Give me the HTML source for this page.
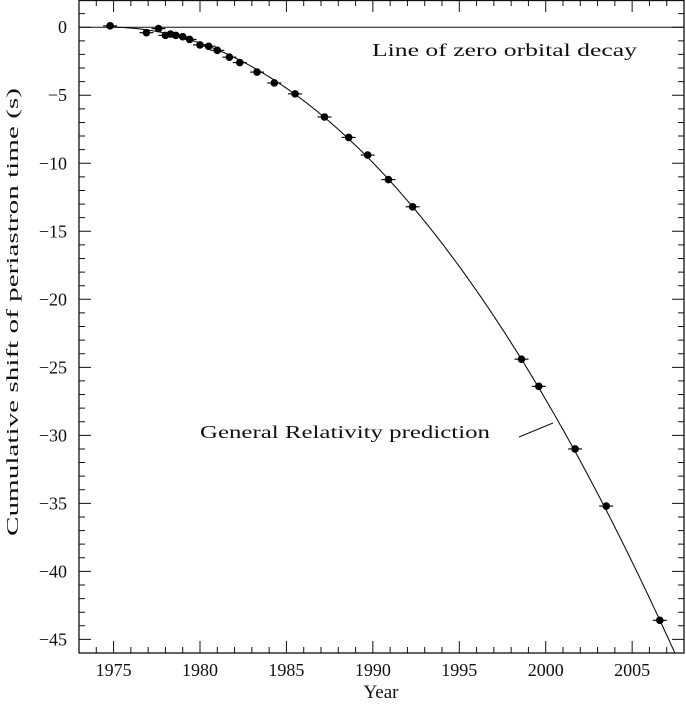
<!DOCTYPE html>
<html><head><meta charset="utf-8"><style>
body{margin:0;background:#fff}
svg text{font-family:"Liberation Serif",serif;fill:#111}
</style></head><body>
<svg id="chart" width="686" height="700" xmlns="http://www.w3.org/2000/svg"></svg>
<script>
const years = [1974.8,1976.9,1977.6,1978.0,1978.3,1978.6,1979.0,1979.4,1980.0,1980.5,1981.0,1981.7,1982.3,1983.3,1984.3,1985.5,1987.2,1988.6,1989.7,1990.9,1992.3,1998.6,1999.6,2001.7,2003.5,2006.6];
const shifts = [0.1,-0.4,-0.1,-0.6,-0.5,-0.6,-0.7,-0.9,-1.3,-1.4,-1.7,-2.2,-2.6,-3.3,-4.1,-4.9,-6.6,-8.1,-9.4,-11.2,-13.2,-24.4,-26.4,-31.0,-35.2,-43.6];
const xTicks = [1975,1980,1985,1990,1995,2000,2005];
const yTicks = [0,-5,-10,-15,-20,-25,-30,-35,-40,-45];
const grT0 = 1974.8, grK = 0.0431;

const svg=document.getElementById('chart');
const NS='http://www.w3.org/2000/svg';
const L=79,R=684,T=0,B=653,X0=1973,X1=2008,Y0=2,Y1=-46;
const sx=v=>L+(v-X0)/(X1-X0)*(R-L);
const sy=v=>T+(Y0-v)/(Y0-Y1)*(B-T);
function mk(tag,attrs,parent){const e=document.createElementNS(NS,tag);for(const k in attrs)e.setAttribute(k,attrs[k]);(parent||svg).appendChild(e);return e;}

const axes=mk('g',{});


const frame=mk('rect',{x:L,y:T+0.5,width:R-L,height:B-T-0.5,fill:'none',stroke:'#111','stroke-width':1.3},axes);


let d='';
for(let y=1973;y<=2008;y++){const x=sx(y),len=(y%5===0)?12:6;d+=`M${x},${B}v${-len}M${x},${T}v${len}`;}
for(let v=2;v>=-46;v--){const y=sy(v),len=(v%5===0)?12:6;d+=`M${L},${y}h${len}M${R},${y}h${-len}`;}
const ticks=mk('path',{d:d,stroke:'#111','stroke-width':1,fill:'none'},axes);


xTicks.forEach(t=>{const e=mk('text',{x:sx(t),y:676,'text-anchor':'middle','font-size':18},axes);e.textContent=t;

});
yTicks.forEach(t=>{const e=mk('text',{x:L-12,y:sy(t)+6,'text-anchor':'end','font-size':18},axes);e.textContent=t===0?'0':'\u2212'+Math.abs(t);

});
const xt=mk('text',{x:381,y:698,'text-anchor':'middle','font-size':19});xt.textContent='Year';


const yt=mk('text',{x:0,y:0,'text-anchor':'middle','font-size':17,transform:'translate(18,312) rotate(-90)',textLength:448,lengthAdjust:'spacingAndGlyphs'});yt.textContent='Cumulative shift of periastron time (s)';



const zl=mk('line',{x1:L,x2:R,y1:sy(0),y2:sy(0),stroke:'#111','stroke-width':1});


const zt=mk('text',{x:372,y:56,'font-size':18,textLength:265,lengthAdjust:'spacingAndGlyphs'});zt.textContent='Line of zero orbital decay';



let pd='';
for(let t=grT0;t<=X1;t+=0.05){const v=-grK*(t-grT0)*(t-grT0);if(v<Y1)break;pd+=(pd?'L':'M')+sx(t).toFixed(1)+','+sy(v).toFixed(1);}
const tEnd=grT0+Math.sqrt(-Y1/grK);pd+='L'+sx(tEnd).toFixed(1)+','+B;
const gr=mk('path',{d:pd,fill:'none',stroke:'#111','stroke-width':1.1});


const gt=mk('text',{x:200,y:438,'font-size':18,textLength:290,lengthAdjust:'spacingAndGlyphs'});gt.textContent='General Relativity prediction';


const gp=mk('line',{x1:519,y1:437,x2:553,y2:423,stroke:'#111','stroke-width':1});



const pts=mk('g',{});


years.forEach((yr,i)=>{const x=sx(yr),y=sy(shifts[i]);
const eb=mk('line',{x1:x-7,x2:x+7,y1:y,y2:y,stroke:'#111','stroke-width':1.2},pts);


const c=mk('circle',{cx:x,cy:y,r:3.8,fill:'#000'},pts);

});
</script>
</body></html>
